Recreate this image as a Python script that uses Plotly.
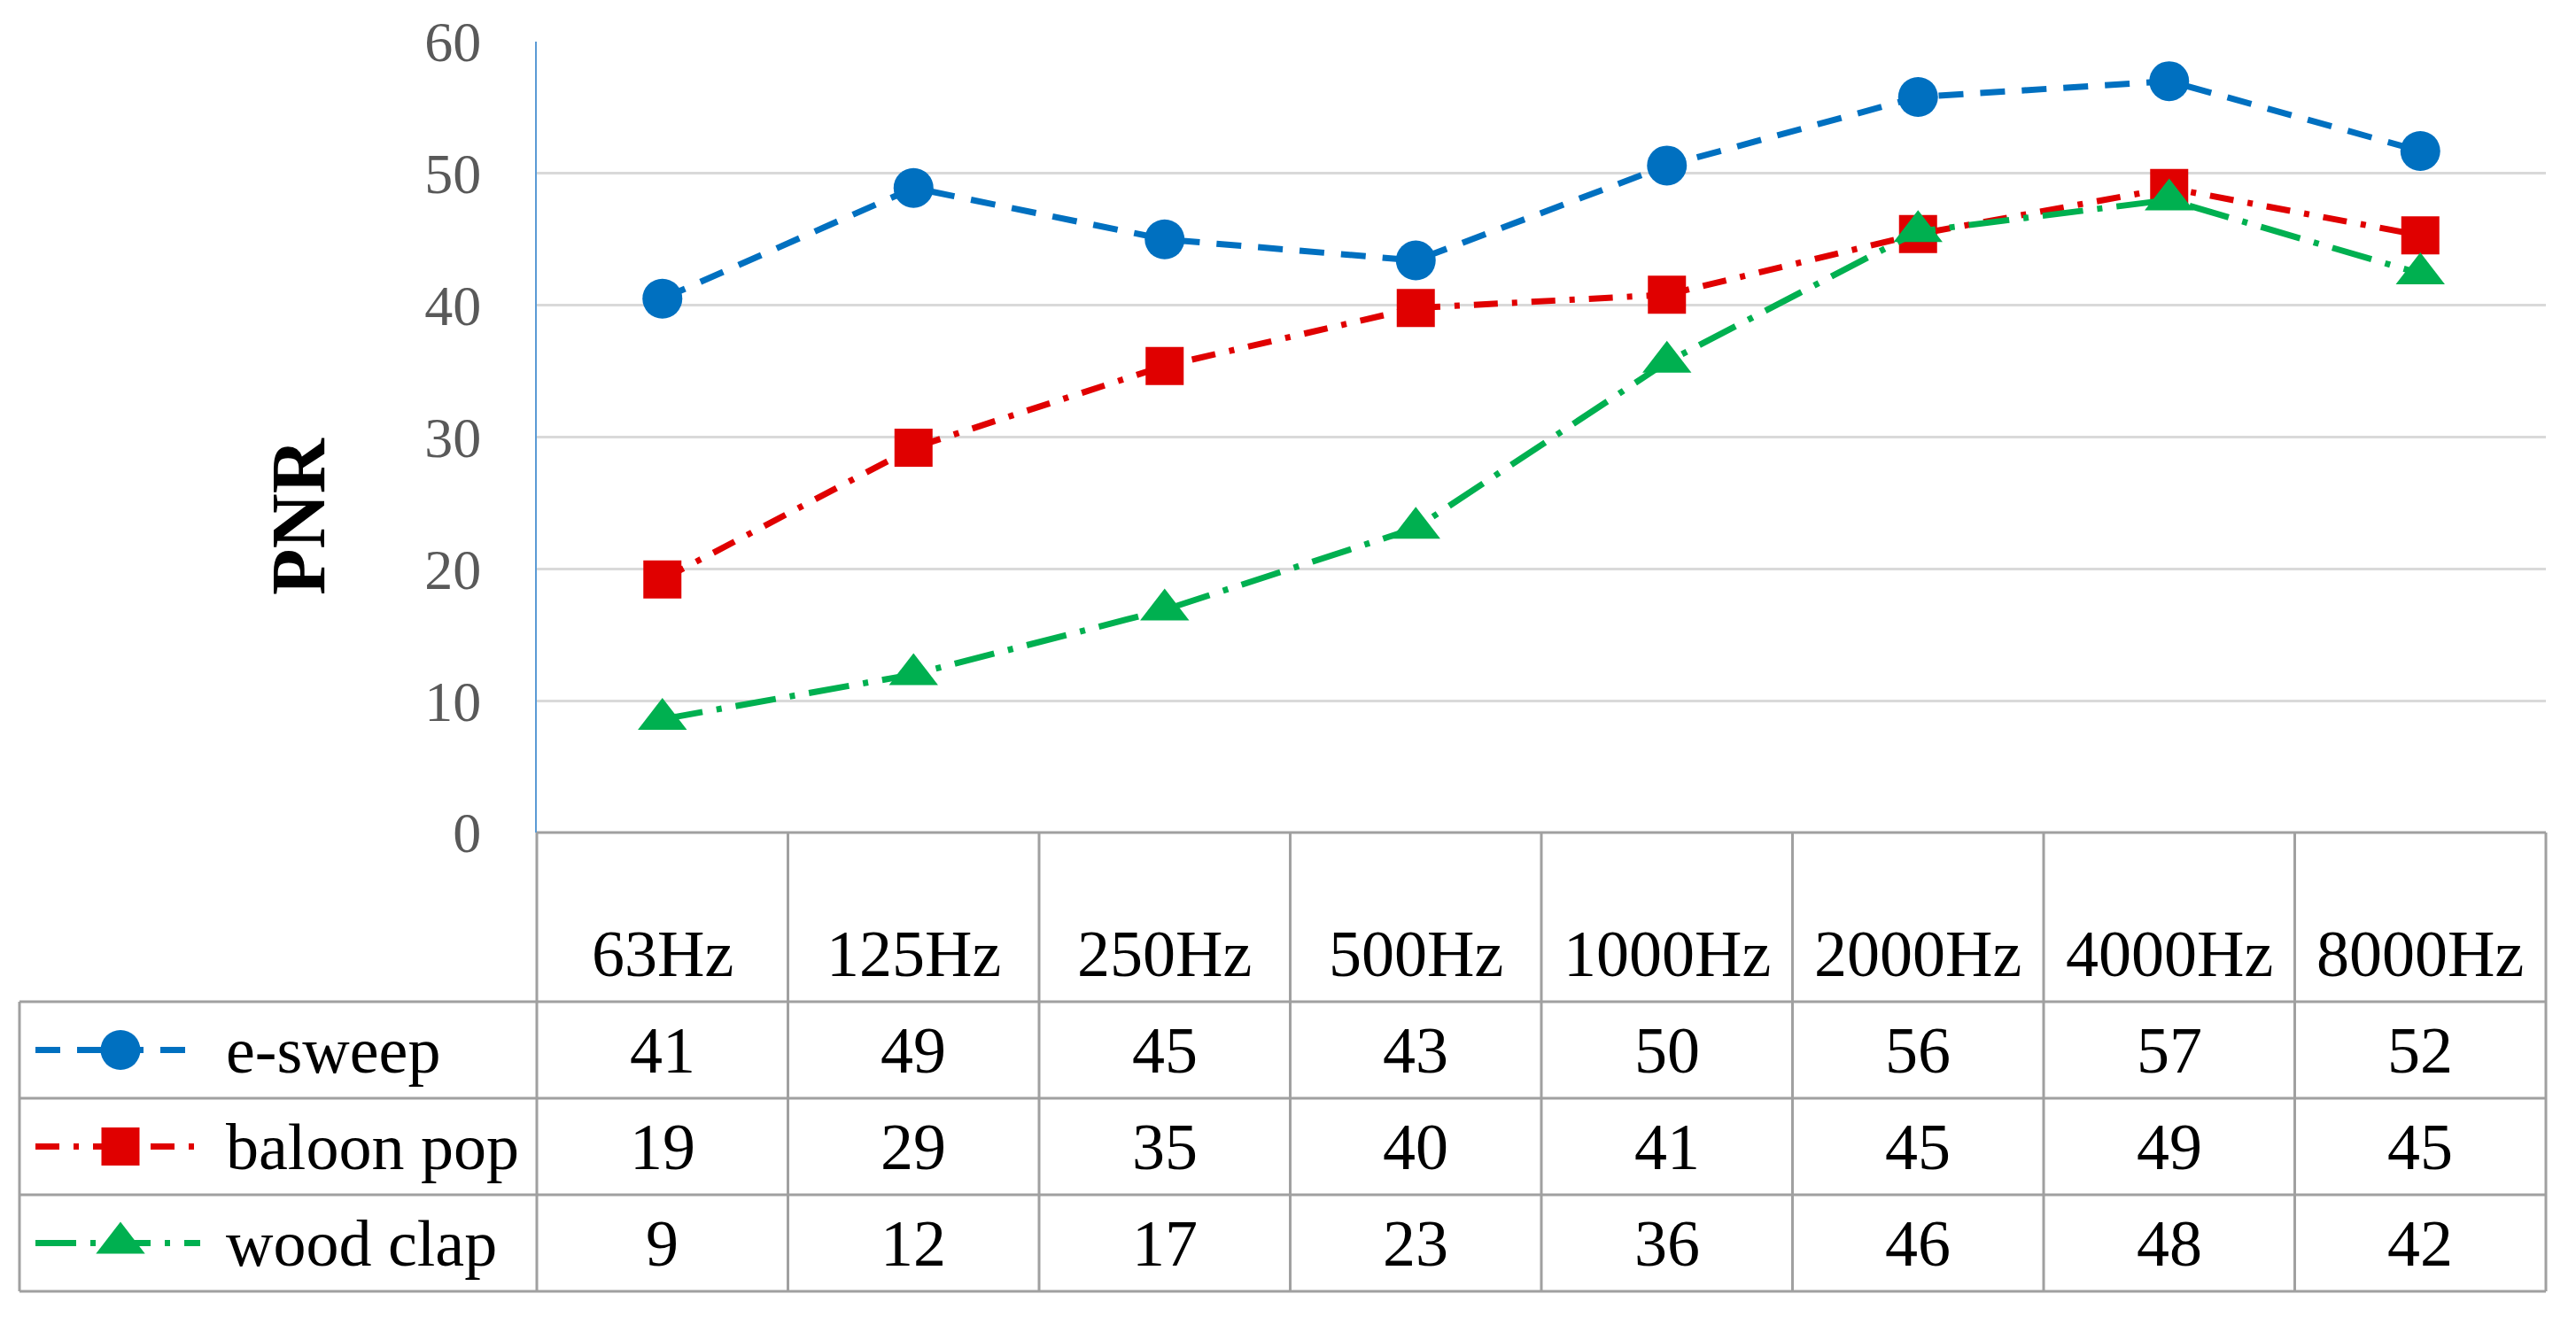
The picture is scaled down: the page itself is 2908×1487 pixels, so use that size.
import plotly.graph_objects as go

W, H = 2908, 1487
BODY = 8  # default page margin around the plot div

# ---------------- data ----------------
categories = ["63Hz", "125Hz", "250Hz", "500Hz", "1000Hz", "2000Hz", "4000Hz", "8000Hz"]
series_names = ["e-sweep", "baloon pop", "wood clap"]

# plotted values
e_sweep = [40.5, 48.9, 45.0, 43.4, 50.6, 55.8, 57.0, 51.7]
baloon_pop = [19.2, 29.2, 35.4, 39.8, 40.8, 45.4, 48.9, 45.3]
wood_clap = [8.6, 12.0, 16.9, 23.1, 35.7, 45.6, 48.0, 42.4]

# values printed in the data table
e_sweep_table = [41, 49, 45, 43, 50, 56, 57, 52]
baloon_pop_table = [19, 29, 35, 40, 41, 45, 49, 45]
wood_clap_table = [9, 12, 17, 23, 36, 46, 48, 42]

y_ticks = [0, 10, 20, 30, 40, 50, 60]
y_title = "PNR"

# ---------------- styles ----------------
colors = ["#0070C0", "#E00000", "#00B050"]
dashes = ["28px,19px", "27px,16px,6px,16px", "46px,16px,6px,16px"]
symbols = ["circle", "square", "triangle-up"]
msizes = [45, 43, 48]
LW = 7
FONT = "Liberation Serif"
TABLE_COLOR = "#A0A0A0"

# pixel layout (screen coordinates)
PLOT_L, PLOT_R, PLOT_T, PLOT_B = 606, 2874, 47, 940
TABLE_L = 22
ROW_LINES = [1131, 1240, 1349, 1458]
HEADER_Y = 1077
LEG_L, LEG_R, LEG_M = 40, 226, 136
LABEL_X = 253

FW, FH = W - BODY, H - BODY


def px(x):
    return (x - BODY) / FW


def py(y):
    return 1 - (y - BODY) / FH


plotted = [e_sweep, baloon_pop, wood_clap]
tables = [e_sweep_table, baloon_pop_table, wood_clap_table]

fig = go.Figure()

for name, vals, c, d, s, ms in zip(series_names, plotted, colors, dashes, symbols, msizes):
    fig.add_trace(go.Scatter(
        x=categories, y=vals, name=name, mode="lines+markers",
        line=dict(color=c, width=LW, dash=d),
        marker=dict(symbol=s, size=ms, color=c, line=dict(width=0)),
        cliponaxis=False, showlegend=False,
    ))

# legend samples in the table row headers (pixel-unit helper axes)
row_centers = [(ROW_LINES[i] + ROW_LINES[i + 1]) / 2 for i in range(len(series_names))]
for name, rc, c, d, s, ms in zip(series_names, row_centers, colors, dashes, symbols, msizes):
    fig.add_trace(go.Scatter(
        x=[LEG_L, LEG_R], y=[rc, rc], mode="lines", xaxis="x2", yaxis="y2",
        line=dict(color=c, width=LW, dash=d), showlegend=False, hoverinfo="skip",
        cliponaxis=False,
    ))
    fig.add_trace(go.Scatter(
        x=[LEG_M], y=[rc], mode="markers", xaxis="x2", yaxis="y2",
        marker=dict(symbol=s, size=ms, color=c, line=dict(width=0)),
        showlegend=False, hoverinfo="skip", cliponaxis=False,
    ))

annotations = []
# header row
for cat in categories:
    annotations.append(dict(
        x=cat, xref="x", y=py(HEADER_Y), yref="paper", text=cat, showarrow=False,
        xanchor="center", yanchor="middle", font=dict(family=FONT, size=74, color="black"),
    ))
# table values and row labels
for name, vals, rc in zip(series_names, tables, row_centers):
    annotations.append(dict(
        x=px(LABEL_X), xref="paper", y=py(rc), yref="paper", text=name, showarrow=False,
        xanchor="left", yanchor="middle", font=dict(family=FONT, size=74, color="black"),
    ))
    for cat, v in zip(categories, vals):
        annotations.append(dict(
            x=cat, xref="x", y=py(rc), yref="paper", text=str(v), showarrow=False,
            xanchor="center", yanchor="middle", font=dict(family=FONT, size=74, color="black"),
        ))
# y axis title
annotations.append(dict(
    x=px(337), xref="paper", y=py(583), yref="paper", text="<b>%s</b>" % y_title,
    showarrow=False, textangle=-90, xanchor="center", yanchor="middle",
    font=dict(family=FONT, size=86, color="black"),
))

# table grid lines
shapes = []
line_style = dict(color=TABLE_COLOR, width=3)
shapes.append(dict(type="line", xref="paper", yref="paper",
                   x0=px(PLOT_L), x1=px(PLOT_R), y0=py(PLOT_B), y1=py(PLOT_B), line=line_style))
for yl in ROW_LINES:
    shapes.append(dict(type="line", xref="paper", yref="paper",
                       x0=px(TABLE_L), x1=px(PLOT_R), y0=py(yl), y1=py(yl), line=line_style))
n = len(categories)
for i in range(n + 1):
    xb = PLOT_L + i * (PLOT_R - PLOT_L) / n
    shapes.append(dict(type="line", xref="paper", yref="paper",
                       x0=px(xb), x1=px(xb), y0=py(PLOT_B), y1=py(ROW_LINES[-1]), line=line_style))
shapes.append(dict(type="line", xref="paper", yref="paper",
                   x0=px(TABLE_L), x1=px(TABLE_L), y0=py(ROW_LINES[0]), y1=py(ROW_LINES[-1]),
                   line=line_style))

fig.update_layout(
    width=FW, height=FH,
    margin=dict(l=0, r=0, t=0, b=0, autoexpand=False),
    paper_bgcolor="white", plot_bgcolor="white",
    font=dict(family=FONT, color="black"),
    xaxis=dict(
        domain=[px(PLOT_L), px(PLOT_R)], type="category", range=[-0.5, n - 0.5],
        showticklabels=False, showgrid=False, zeroline=False, showline=False, ticks="",
        automargin=False,
    ),
    yaxis=dict(
        domain=[py(PLOT_B), py(PLOT_T)], range=[0, 60], tickvals=y_ticks,
        showgrid=True, gridcolor="#D9D9D9", gridwidth=3, zeroline=False,
        showline=True, linecolor="#5B9BD5", linewidth=2, ticks="",
        tickfont=dict(family=FONT, size=64, color="#595959"),
        ticklabelstandoff=48, automargin=False,
    ),
    xaxis2=dict(domain=[0, px(PLOT_L)], range=[BODY, PLOT_L], visible=False,
                anchor="y2", automargin=False),
    yaxis2=dict(domain=[0, py(PLOT_B)], range=[H, PLOT_B], visible=False,
                anchor="x2", automargin=False),
    annotations=annotations,
    shapes=shapes,
    showlegend=False,
)

fig.write_html("out.html")
